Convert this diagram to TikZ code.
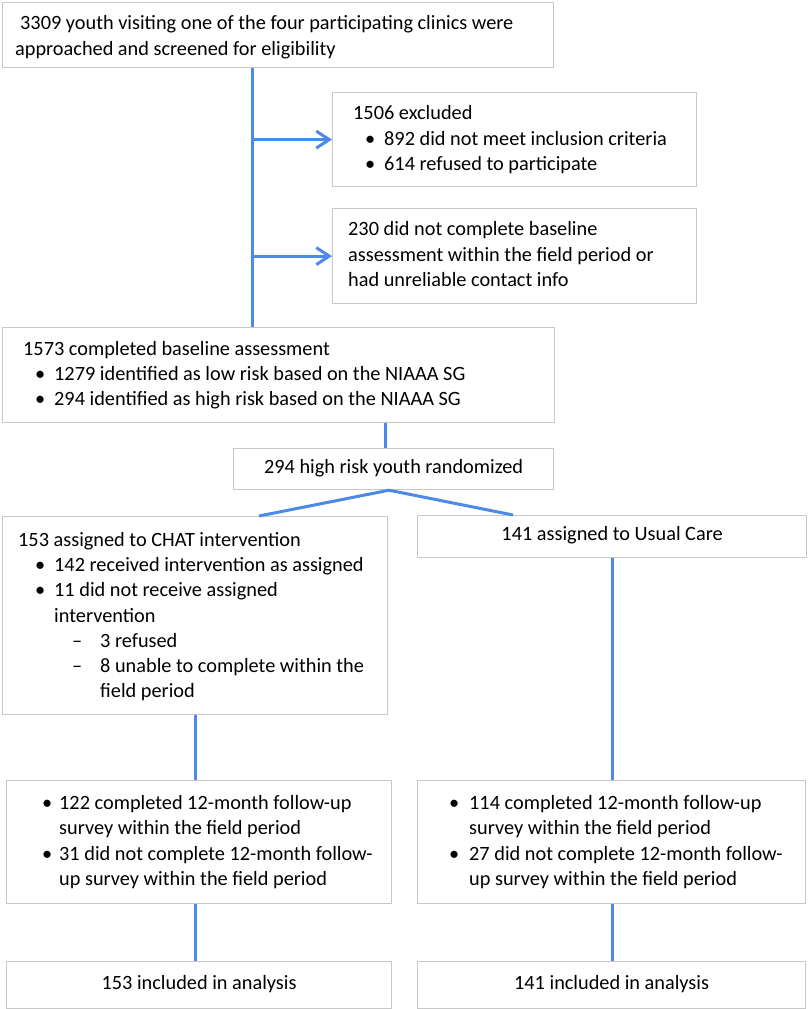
\documentclass[tikz,border=0pt]{standalone}
\usepackage{fontspec}
\setmainfont{Carlito}
\usetikzlibrary{arrows.meta}
\definecolor{lineblue}{RGB}{76,137,232}
\definecolor{boxgray}{RGB}{200,200,200}
\newcommand{\bul}[2]{\hspace*{#1}\makebox[#2][l]{•}}
\newcommand{\dsh}[2]{\hspace*{#1}\makebox[#2][l]{–}}
\tikzset{
  box/.style={draw=boxgray, line width=1.2pt, fill=white, anchor=north west,
    inner sep=0pt},
  txt/.style={inner sep=0pt, align=left, anchor=west,
    font=\fontsize{20.3}{25.3}\selectfont},
  ctxt/.style={txt, align=center, anchor=center},
  conn/.style={draw=lineblue, line width=3pt},
  arr/.style={conn, -{Straight Barb[length=13pt,width=17pt]}}
}
\begin{document}
\begin{tikzpicture}[x=1pt,y=-1pt]
\useasboundingbox (0,0) rectangle (807,1009);
% boxes
\node[box, minimum width=551pt, minimum height=65pt] (b1) at (2,2) {};
\node[box, minimum width=364pt, minimum height=94pt] (excl) at (332,92) {};
\node[box, minimum width=364pt, minimum height=95pt] (nc) at (332,208) {};
\node[box, minimum width=552pt, minimum height=95pt] (base) at (2,327) {};
\node[box, minimum width=320pt, minimum height=41pt] (rand) at (233,448) {};
\node[box, minimum width=385pt, minimum height=198pt] (chat) at (2,516) {};
\node[box, minimum width=389pt, minimum height=42pt] (usual) at (417,515) {};
\node[box, minimum width=385pt, minimum height=123pt] (fl) at (6,780) {};
\node[box, minimum width=388pt, minimum height=123pt] (fr) at (417,780) {};
\node[box, minimum width=385pt, minimum height=47pt] (al) at (6,961) {};
\node[box, minimum width=388pt, minimum height=47pt] (ar) at (417,961) {};
% texts
\node[txt] (b1t) at ([xshift=13pt,yshift=-2pt]b1.west)
  {\hspace*{5pt}3309 youth visiting one of the four participating clinics were\\approached and screened for eligibility};
\node[txt] (exclt) at ([xshift=21pt,yshift=0pt]excl.west)
  {1506 excluded\\\bul{12pt}{19pt}892 did not meet inclusion criteria\\\bul{12pt}{19pt}614 refused to participate};
\node[txt] (nct) at ([xshift=16pt,yshift=2pt]nc.west)
  {230 did not complete baseline\\assessment within the field period or\\had unreliable contact info};
\node[txt] (baset) at ([xshift=21pt,yshift=0pt]base.west)
  {1573 completed baseline assessment\\\bul{12pt}{19pt}1279 identified as low risk based on the NIAAA SG\\\bul{12pt}{19pt}294 identified as high risk based on the NIAAA SG};
\node[ctxt] (randt) at ([yshift=1pt]rand.center) {294 high risk youth randomized};
\node[txt] (chatt) at ([xshift=16pt,yshift=-1pt]chat.west)
  {153 assigned to CHAT intervention\\\bul{17pt}{19pt}142 received intervention as assigned\\\bul{17pt}{19pt}11 did not receive assigned\\\hspace*{36pt}intervention\\\dsh{54pt}{28pt}3 refused\\\dsh{54pt}{28pt}8 unable to complete within the\\\hspace*{82pt}field period};
\node[ctxt] (usualt) at ([yshift=1pt]usual.center) {141 assigned to Usual Care};
\node[txt] (flt) at ([xshift=10pt,yshift=0pt]fl.west)
  {\bul{26pt}{17pt}122 completed 12-month follow-up\\\hspace*{43pt}survey within the field period\\\bul{26pt}{17pt}31 did not complete 12-month follow-\\\hspace*{43pt}up survey within the field period};
\node[txt] (frt) at ([xshift=10pt,yshift=0pt]fr.west)
  {\bul{22pt}{20pt}114 completed 12-month follow-up\\\hspace*{42pt}survey within the field period\\\bul{22pt}{20pt}27 did not complete 12-month follow-\\\hspace*{42pt}up survey within the field period};
\node[ctxt] (alt) at ([yshift=1pt]al.center) {153 included in analysis};
\node[ctxt] (art) at ([yshift=1pt]ar.center) {141 included in analysis};
% connectors
\coordinate (t) at (252,0);
\coordinate (r) at (385,0);
\coordinate (ap) at (389,0);
\coordinate (cl) at (259,516);
\coordinate (cr) at (513,515);
\draw[conn] (t |- b1.south) -- (t |- base.north);
\draw[arr] (t |- excl.west) -- (excl.west);
\draw[arr] (t |- nc.west) -- (nc.west);
\draw[conn] (r |- base.south) -- (r |- rand.north);
\draw[conn] (cl) -- (ap |- rand.south) -- (cr);
\draw[conn] (chat.south) -- (chat.south |- fl.north);
\draw[conn] (usual.south) -- (usual.south |- fr.north);
\draw[conn] (fl.south -| chat.south) -- (chat.south |- al.north);
\draw[conn] (fr.south -| usual.south) -- (usual.south |- ar.north);
\end{tikzpicture}
\end{document}
